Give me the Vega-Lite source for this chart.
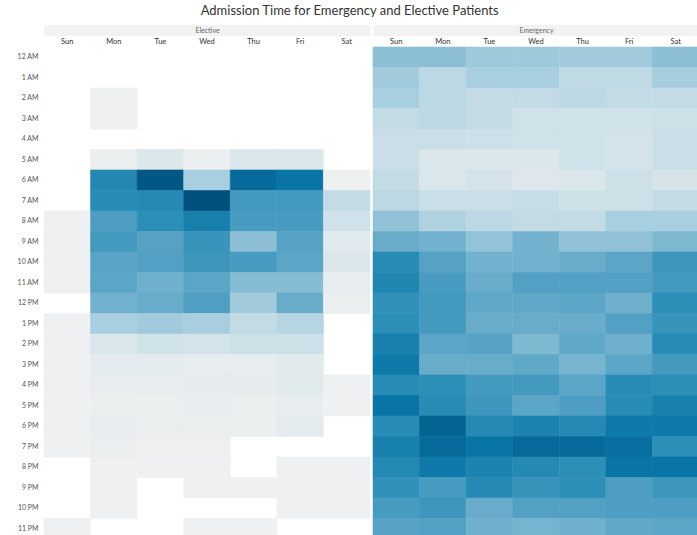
{
  "$schema": "https://vega.github.io/schema/vega-lite/v6.json",
  "padding": {"left": 0, "top": 5, "right": 0, "bottom": 0},
  "background": "white",
  "title": {"text": "Admission Time for Emergency and Elective Patients", "font": "Lato", "fontSize": 13, "fontWeight": "normal", "color": "#333333", "anchor": "middle", "offset": 8},
  "data": {"values": [
    {"t":"Elective","d":"Mon","h":"2 AM","v":2},
    {"t":"Elective","d":"Mon","h":"3 AM","v":2},
    {"t":"Elective","d":"Mon","h":"5 AM","v":3},{"t":"Elective","d":"Tue","h":"5 AM","v":14},{"t":"Elective","d":"Wed","h":"5 AM","v":3},{"t":"Elective","d":"Thu","h":"5 AM","v":14},{"t":"Elective","d":"Fri","h":"5 AM","v":14},
    {"t":"Elective","d":"Mon","h":"6 AM","v":75},{"t":"Elective","d":"Tue","h":"6 AM","v":97},{"t":"Elective","d":"Wed","h":"6 AM","v":30},{"t":"Elective","d":"Thu","h":"6 AM","v":90},{"t":"Elective","d":"Fri","h":"6 AM","v":86},{"t":"Elective","d":"Sat","h":"6 AM","v":2},
    {"t":"Elective","d":"Mon","h":"7 AM","v":72},{"t":"Elective","d":"Tue","h":"7 AM","v":74},{"t":"Elective","d":"Wed","h":"7 AM","v":100},{"t":"Elective","d":"Thu","h":"7 AM","v":62},{"t":"Elective","d":"Fri","h":"7 AM","v":62},{"t":"Elective","d":"Sat","h":"7 AM","v":22},
    {"t":"Elective","d":"Sun","h":"8 AM","v":1},{"t":"Elective","d":"Mon","h":"8 AM","v":58},{"t":"Elective","d":"Tue","h":"8 AM","v":70},{"t":"Elective","d":"Wed","h":"8 AM","v":80},{"t":"Elective","d":"Thu","h":"8 AM","v":60},{"t":"Elective","d":"Fri","h":"8 AM","v":60},{"t":"Elective","d":"Sat","h":"8 AM","v":18},
    {"t":"Elective","d":"Sun","h":"9 AM","v":1},{"t":"Elective","d":"Mon","h":"9 AM","v":62},{"t":"Elective","d":"Tue","h":"9 AM","v":55},{"t":"Elective","d":"Wed","h":"9 AM","v":66},{"t":"Elective","d":"Thu","h":"9 AM","v":38},{"t":"Elective","d":"Fri","h":"9 AM","v":55},{"t":"Elective","d":"Sat","h":"9 AM","v":10},
    {"t":"Elective","d":"Sun","h":"10 AM","v":1},{"t":"Elective","d":"Mon","h":"10 AM","v":53},{"t":"Elective","d":"Tue","h":"10 AM","v":56},{"t":"Elective","d":"Wed","h":"10 AM","v":64},{"t":"Elective","d":"Thu","h":"10 AM","v":60},{"t":"Elective","d":"Fri","h":"10 AM","v":52},{"t":"Elective","d":"Sat","h":"10 AM","v":14},
    {"t":"Elective","d":"Sun","h":"11 AM","v":1},{"t":"Elective","d":"Mon","h":"11 AM","v":52},{"t":"Elective","d":"Tue","h":"11 AM","v":46},{"t":"Elective","d":"Wed","h":"11 AM","v":52},{"t":"Elective","d":"Thu","h":"11 AM","v":40},{"t":"Elective","d":"Fri","h":"11 AM","v":40},{"t":"Elective","d":"Sat","h":"11 AM","v":6},
    {"t":"Elective","d":"Mon","h":"12 PM","v":45},{"t":"Elective","d":"Tue","h":"12 PM","v":48},{"t":"Elective","d":"Wed","h":"12 PM","v":57},{"t":"Elective","d":"Thu","h":"12 PM","v":32},{"t":"Elective","d":"Fri","h":"12 PM","v":48},{"t":"Elective","d":"Sat","h":"12 PM","v":4},
    {"t":"Elective","d":"Sun","h":"1 PM","v":1},{"t":"Elective","d":"Mon","h":"1 PM","v":30},{"t":"Elective","d":"Tue","h":"1 PM","v":32},{"t":"Elective","d":"Wed","h":"1 PM","v":30},{"t":"Elective","d":"Thu","h":"1 PM","v":22},{"t":"Elective","d":"Fri","h":"1 PM","v":26},
    {"t":"Elective","d":"Sun","h":"2 PM","v":1},{"t":"Elective","d":"Mon","h":"2 PM","v":15},{"t":"Elective","d":"Tue","h":"2 PM","v":18},{"t":"Elective","d":"Wed","h":"2 PM","v":17},{"t":"Elective","d":"Thu","h":"2 PM","v":19},{"t":"Elective","d":"Fri","h":"2 PM","v":19},
    {"t":"Elective","d":"Sun","h":"3 PM","v":1},{"t":"Elective","d":"Mon","h":"3 PM","v":8},{"t":"Elective","d":"Tue","h":"3 PM","v":8},{"t":"Elective","d":"Wed","h":"3 PM","v":6},{"t":"Elective","d":"Thu","h":"3 PM","v":6},{"t":"Elective","d":"Fri","h":"3 PM","v":10},
    {"t":"Elective","d":"Sun","h":"4 PM","v":1},{"t":"Elective","d":"Mon","h":"4 PM","v":5},{"t":"Elective","d":"Tue","h":"4 PM","v":5},{"t":"Elective","d":"Wed","h":"4 PM","v":7},{"t":"Elective","d":"Thu","h":"4 PM","v":7},{"t":"Elective","d":"Fri","h":"4 PM","v":10},{"t":"Elective","d":"Sat","h":"4 PM","v":1},
    {"t":"Elective","d":"Sun","h":"5 PM","v":1},{"t":"Elective","d":"Mon","h":"5 PM","v":3},{"t":"Elective","d":"Tue","h":"5 PM","v":4},{"t":"Elective","d":"Wed","h":"5 PM","v":5},{"t":"Elective","d":"Thu","h":"5 PM","v":4},{"t":"Elective","d":"Fri","h":"5 PM","v":6},{"t":"Elective","d":"Sat","h":"5 PM","v":1},
    {"t":"Elective","d":"Sun","h":"6 PM","v":1},{"t":"Elective","d":"Mon","h":"6 PM","v":5},{"t":"Elective","d":"Tue","h":"6 PM","v":4},{"t":"Elective","d":"Wed","h":"6 PM","v":4},{"t":"Elective","d":"Thu","h":"6 PM","v":3},{"t":"Elective","d":"Fri","h":"6 PM","v":8},
    {"t":"Elective","d":"Sun","h":"7 PM","v":1},{"t":"Elective","d":"Mon","h":"7 PM","v":4},{"t":"Elective","d":"Tue","h":"7 PM","v":2},{"t":"Elective","d":"Wed","h":"7 PM","v":2},
    {"t":"Elective","d":"Mon","h":"8 PM","v":1},{"t":"Elective","d":"Tue","h":"8 PM","v":1},{"t":"Elective","d":"Wed","h":"8 PM","v":1},{"t":"Elective","d":"Fri","h":"8 PM","v":1},{"t":"Elective","d":"Sat","h":"8 PM","v":1},
    {"t":"Elective","d":"Mon","h":"9 PM","v":1},{"t":"Elective","d":"Wed","h":"9 PM","v":1},{"t":"Elective","d":"Thu","h":"9 PM","v":1},{"t":"Elective","d":"Fri","h":"9 PM","v":1},{"t":"Elective","d":"Sat","h":"9 PM","v":1},
    {"t":"Elective","d":"Mon","h":"10 PM","v":1},{"t":"Elective","d":"Fri","h":"10 PM","v":1},{"t":"Elective","d":"Sat","h":"10 PM","v":1},
    {"t":"Elective","d":"Sun","h":"11 PM","v":1},{"t":"Elective","d":"Wed","h":"11 PM","v":1},{"t":"Elective","d":"Thu","h":"11 PM","v":1},

    {"t":"Emergency","d":"Sun","h":"12 AM","v":38},{"t":"Emergency","d":"Mon","h":"12 AM","v":38},{"t":"Emergency","d":"Tue","h":"12 AM","v":33},{"t":"Emergency","d":"Wed","h":"12 AM","v":33},{"t":"Emergency","d":"Thu","h":"12 AM","v":32},{"t":"Emergency","d":"Fri","h":"12 AM","v":32},{"t":"Emergency","d":"Sat","h":"12 AM","v":38},
    {"t":"Emergency","d":"Sun","h":"1 AM","v":32},{"t":"Emergency","d":"Mon","h":"1 AM","v":24},{"t":"Emergency","d":"Tue","h":"1 AM","v":30},{"t":"Emergency","d":"Wed","h":"1 AM","v":30},{"t":"Emergency","d":"Thu","h":"1 AM","v":23},{"t":"Emergency","d":"Fri","h":"1 AM","v":23},{"t":"Emergency","d":"Sat","h":"1 AM","v":31},
    {"t":"Emergency","d":"Sun","h":"2 AM","v":30},{"t":"Emergency","d":"Mon","h":"2 AM","v":24},{"t":"Emergency","d":"Tue","h":"2 AM","v":22},{"t":"Emergency","d":"Wed","h":"2 AM","v":22},{"t":"Emergency","d":"Thu","h":"2 AM","v":24},{"t":"Emergency","d":"Fri","h":"2 AM","v":22},{"t":"Emergency","d":"Sat","h":"2 AM","v":22},
    {"t":"Emergency","d":"Sun","h":"3 AM","v":22},{"t":"Emergency","d":"Mon","h":"3 AM","v":24},{"t":"Emergency","d":"Tue","h":"3 AM","v":22},{"t":"Emergency","d":"Wed","h":"3 AM","v":18},{"t":"Emergency","d":"Thu","h":"3 AM","v":18},{"t":"Emergency","d":"Fri","h":"3 AM","v":18},{"t":"Emergency","d":"Sat","h":"3 AM","v":19},
    {"t":"Emergency","d":"Sun","h":"4 AM","v":20},{"t":"Emergency","d":"Mon","h":"4 AM","v":20},{"t":"Emergency","d":"Tue","h":"4 AM","v":19},{"t":"Emergency","d":"Wed","h":"4 AM","v":18},{"t":"Emergency","d":"Thu","h":"4 AM","v":18},{"t":"Emergency","d":"Fri","h":"4 AM","v":17},{"t":"Emergency","d":"Sat","h":"4 AM","v":20},
    {"t":"Emergency","d":"Sun","h":"5 AM","v":20},{"t":"Emergency","d":"Mon","h":"5 AM","v":15},{"t":"Emergency","d":"Tue","h":"5 AM","v":14},{"t":"Emergency","d":"Wed","h":"5 AM","v":14},{"t":"Emergency","d":"Thu","h":"5 AM","v":18},{"t":"Emergency","d":"Fri","h":"5 AM","v":17},{"t":"Emergency","d":"Sat","h":"5 AM","v":20},
    {"t":"Emergency","d":"Sun","h":"6 AM","v":22},{"t":"Emergency","d":"Mon","h":"6 AM","v":15},{"t":"Emergency","d":"Tue","h":"6 AM","v":17},{"t":"Emergency","d":"Wed","h":"6 AM","v":12},{"t":"Emergency","d":"Thu","h":"6 AM","v":15},{"t":"Emergency","d":"Fri","h":"6 AM","v":19},{"t":"Emergency","d":"Sat","h":"6 AM","v":16},
    {"t":"Emergency","d":"Sun","h":"7 AM","v":24},{"t":"Emergency","d":"Mon","h":"7 AM","v":20},{"t":"Emergency","d":"Tue","h":"7 AM","v":20},{"t":"Emergency","d":"Wed","h":"7 AM","v":21},{"t":"Emergency","d":"Thu","h":"7 AM","v":19},{"t":"Emergency","d":"Fri","h":"7 AM","v":19},{"t":"Emergency","d":"Sat","h":"7 AM","v":22},
    {"t":"Emergency","d":"Sun","h":"8 AM","v":37},{"t":"Emergency","d":"Mon","h":"8 AM","v":28},{"t":"Emergency","d":"Tue","h":"8 AM","v":24},{"t":"Emergency","d":"Wed","h":"8 AM","v":22},{"t":"Emergency","d":"Thu","h":"8 AM","v":22},{"t":"Emergency","d":"Fri","h":"8 AM","v":30},{"t":"Emergency","d":"Sat","h":"8 AM","v":30},
    {"t":"Emergency","d":"Sun","h":"9 AM","v":48},{"t":"Emergency","d":"Mon","h":"9 AM","v":45},{"t":"Emergency","d":"Tue","h":"9 AM","v":36},{"t":"Emergency","d":"Wed","h":"9 AM","v":45},{"t":"Emergency","d":"Thu","h":"9 AM","v":37},{"t":"Emergency","d":"Fri","h":"9 AM","v":37},{"t":"Emergency","d":"Sat","h":"9 AM","v":42},
    {"t":"Emergency","d":"Sun","h":"10 AM","v":72},{"t":"Emergency","d":"Mon","h":"10 AM","v":55},{"t":"Emergency","d":"Tue","h":"10 AM","v":45},{"t":"Emergency","d":"Wed","h":"10 AM","v":45},{"t":"Emergency","d":"Thu","h":"10 AM","v":48},{"t":"Emergency","d":"Fri","h":"10 AM","v":52},{"t":"Emergency","d":"Sat","h":"10 AM","v":64},
    {"t":"Emergency","d":"Sun","h":"11 AM","v":76},{"t":"Emergency","d":"Mon","h":"11 AM","v":60},{"t":"Emergency","d":"Tue","h":"11 AM","v":48},{"t":"Emergency","d":"Wed","h":"11 AM","v":56},{"t":"Emergency","d":"Thu","h":"11 AM","v":56},{"t":"Emergency","d":"Fri","h":"11 AM","v":56},{"t":"Emergency","d":"Sat","h":"11 AM","v":62},
    {"t":"Emergency","d":"Sun","h":"12 PM","v":68},{"t":"Emergency","d":"Mon","h":"12 PM","v":62},{"t":"Emergency","d":"Tue","h":"12 PM","v":50},{"t":"Emergency","d":"Wed","h":"12 PM","v":50},{"t":"Emergency","d":"Thu","h":"12 PM","v":52},{"t":"Emergency","d":"Fri","h":"12 PM","v":46},{"t":"Emergency","d":"Sat","h":"12 PM","v":70},
    {"t":"Emergency","d":"Sun","h":"1 PM","v":70},{"t":"Emergency","d":"Mon","h":"1 PM","v":62},{"t":"Emergency","d":"Tue","h":"1 PM","v":48},{"t":"Emergency","d":"Wed","h":"1 PM","v":48},{"t":"Emergency","d":"Thu","h":"1 PM","v":48},{"t":"Emergency","d":"Fri","h":"1 PM","v":56},{"t":"Emergency","d":"Sat","h":"1 PM","v":66},
    {"t":"Emergency","d":"Sun","h":"2 PM","v":80},{"t":"Emergency","d":"Mon","h":"2 PM","v":52},{"t":"Emergency","d":"Tue","h":"2 PM","v":54},{"t":"Emergency","d":"Wed","h":"2 PM","v":42},{"t":"Emergency","d":"Thu","h":"2 PM","v":50},{"t":"Emergency","d":"Fri","h":"2 PM","v":46},{"t":"Emergency","d":"Sat","h":"2 PM","v":72},
    {"t":"Emergency","d":"Sun","h":"3 PM","v":84},{"t":"Emergency","d":"Mon","h":"3 PM","v":48},{"t":"Emergency","d":"Tue","h":"3 PM","v":48},{"t":"Emergency","d":"Wed","h":"3 PM","v":50},{"t":"Emergency","d":"Thu","h":"3 PM","v":44},{"t":"Emergency","d":"Fri","h":"3 PM","v":52},{"t":"Emergency","d":"Sat","h":"3 PM","v":62},
    {"t":"Emergency","d":"Sun","h":"4 PM","v":72},{"t":"Emergency","d":"Mon","h":"4 PM","v":70},{"t":"Emergency","d":"Tue","h":"4 PM","v":62},{"t":"Emergency","d":"Wed","h":"4 PM","v":62},{"t":"Emergency","d":"Thu","h":"4 PM","v":52},{"t":"Emergency","d":"Fri","h":"4 PM","v":72},{"t":"Emergency","d":"Sat","h":"4 PM","v":70},
    {"t":"Emergency","d":"Sun","h":"5 PM","v":86},{"t":"Emergency","d":"Mon","h":"5 PM","v":72},{"t":"Emergency","d":"Tue","h":"5 PM","v":64},{"t":"Emergency","d":"Wed","h":"5 PM","v":52},{"t":"Emergency","d":"Thu","h":"5 PM","v":58},{"t":"Emergency","d":"Fri","h":"5 PM","v":72},{"t":"Emergency","d":"Sat","h":"5 PM","v":80},
    {"t":"Emergency","d":"Sun","h":"6 PM","v":72},{"t":"Emergency","d":"Mon","h":"6 PM","v":92},{"t":"Emergency","d":"Tue","h":"6 PM","v":74},{"t":"Emergency","d":"Wed","h":"6 PM","v":78},{"t":"Emergency","d":"Thu","h":"6 PM","v":74},{"t":"Emergency","d":"Fri","h":"6 PM","v":84},{"t":"Emergency","d":"Sat","h":"6 PM","v":84},
    {"t":"Emergency","d":"Sun","h":"7 PM","v":80},{"t":"Emergency","d":"Mon","h":"7 PM","v":90},{"t":"Emergency","d":"Tue","h":"7 PM","v":86},{"t":"Emergency","d":"Wed","h":"7 PM","v":90},{"t":"Emergency","d":"Thu","h":"7 PM","v":90},{"t":"Emergency","d":"Fri","h":"7 PM","v":88},{"t":"Emergency","d":"Sat","h":"7 PM","v":70},
    {"t":"Emergency","d":"Sun","h":"8 PM","v":74},{"t":"Emergency","d":"Mon","h":"8 PM","v":84},{"t":"Emergency","d":"Tue","h":"8 PM","v":78},{"t":"Emergency","d":"Wed","h":"8 PM","v":74},{"t":"Emergency","d":"Thu","h":"8 PM","v":70},{"t":"Emergency","d":"Fri","h":"8 PM","v":86},{"t":"Emergency","d":"Sat","h":"8 PM","v":86},
    {"t":"Emergency","d":"Sun","h":"9 PM","v":68},{"t":"Emergency","d":"Mon","h":"9 PM","v":60},{"t":"Emergency","d":"Tue","h":"9 PM","v":74},{"t":"Emergency","d":"Wed","h":"9 PM","v":66},{"t":"Emergency","d":"Thu","h":"9 PM","v":70},{"t":"Emergency","d":"Fri","h":"9 PM","v":58},{"t":"Emergency","d":"Sat","h":"9 PM","v":64},
    {"t":"Emergency","d":"Sun","h":"10 PM","v":60},{"t":"Emergency","d":"Mon","h":"10 PM","v":64},{"t":"Emergency","d":"Tue","h":"10 PM","v":48},{"t":"Emergency","d":"Wed","h":"10 PM","v":56},{"t":"Emergency","d":"Thu","h":"10 PM","v":56},{"t":"Emergency","d":"Fri","h":"10 PM","v":58},{"t":"Emergency","d":"Sat","h":"10 PM","v":58},
    {"t":"Emergency","d":"Sun","h":"11 PM","v":54},{"t":"Emergency","d":"Mon","h":"11 PM","v":56},{"t":"Emergency","d":"Tue","h":"11 PM","v":46},{"t":"Emergency","d":"Wed","h":"11 PM","v":44},{"t":"Emergency","d":"Thu","h":"11 PM","v":46},{"t":"Emergency","d":"Fri","h":"11 PM","v":50},{"t":"Emergency","d":"Sat","h":"11 PM","v":52}
  ]},
  "spacing": 1,
  "hconcat": [
    {
      "transform": [{"filter": "datum.t === 'Elective'"}],
      "width": 326,
      "height": 492,
      "mark": {"type": "rect", "strokeWidth": 0.6},
      "encoding": {
        "x": {
          "field": "d", "type": "nominal",
          "scale": {"domain": ["Sun", "Mon", "Tue", "Wed", "Thu", "Fri", "Sat"], "paddingInner": 0, "paddingOuter": 0},
          "axis": {"orient": "top", "title": "Elective", "titleY": 0, "titleBaseline": "middle", "titleAnchor": "middle", "titleFont": "Lato", "titleFontSize": 7, "titleFontWeight": "normal", "titleColor": "#666666", "ticks": false, "domain": true, "domainColor": "#f2f2f2", "domainWidth": 11, "domainCap": "butt", "offset": 17, "labelAngle": 0, "labelFont": "Lato", "labelFontSize": 7.5, "labelColor": "#333333", "labelPadding": -15}
        },
        "y": {
          "field": "h", "type": "nominal",
          "scale": {"domain": ["12 AM", "1 AM", "2 AM", "3 AM", "4 AM", "5 AM", "6 AM", "7 AM", "8 AM", "9 AM", "10 AM", "11 AM", "12 PM", "1 PM", "2 PM", "3 PM", "4 PM", "5 PM", "6 PM", "7 PM", "8 PM", "9 PM", "10 PM", "11 PM"], "paddingInner": 0, "paddingOuter": 0},
          "axis": {"title": null, "ticks": false, "domain": false, "labelFont": "Lato", "labelFontSize": 7, "labelColor": "#555555", "labelPadding": 6, "minExtent": 44}
        },
        "color": {
          "field": "v", "type": "quantitative",
          "scale": {"domain": [0, 15, 30, 50, 70, 85, 100], "range": ["#f1f1f1", "#d9e6eb", "#a8cfdf", "#60a8c8", "#2b8fb8", "#0a78a8", "#00507f"]},
          "legend": null
        },
        "stroke": {
          "field": "v", "type": "quantitative",
          "scale": {"domain": [0, 15, 30, 50, 70, 85, 100], "range": ["#f1f1f1", "#d9e6eb", "#a8cfdf", "#60a8c8", "#2b8fb8", "#0a78a8", "#00507f"]},
          "legend": null
        }
      }
    },
    {
      "transform": [{"filter": "datum.t === 'Emergency'"}],
      "width": 326,
      "height": 492,
      "mark": {"type": "rect", "strokeWidth": 0.6},
      "encoding": {
        "x": {
          "field": "d", "type": "nominal",
          "scale": {"domain": ["Sun", "Mon", "Tue", "Wed", "Thu", "Fri", "Sat"], "paddingInner": 0, "paddingOuter": 0},
          "axis": {"orient": "top", "title": "Emergency", "titleY": 0, "titleBaseline": "middle", "titleAnchor": "middle", "titleFont": "Lato", "titleFontSize": 7, "titleFontWeight": "normal", "titleColor": "#666666", "ticks": false, "domain": true, "domainColor": "#f2f2f2", "domainWidth": 11, "domainCap": "butt", "offset": 17, "labelAngle": 0, "labelFont": "Lato", "labelFontSize": 7.5, "labelColor": "#333333", "labelPadding": -15}
        },
        "y": {
          "field": "h", "type": "nominal",
          "scale": {"domain": ["12 AM", "1 AM", "2 AM", "3 AM", "4 AM", "5 AM", "6 AM", "7 AM", "8 AM", "9 AM", "10 AM", "11 AM", "12 PM", "1 PM", "2 PM", "3 PM", "4 PM", "5 PM", "6 PM", "7 PM", "8 PM", "9 PM", "10 PM", "11 PM"], "paddingInner": 0, "paddingOuter": 0},
          "axis": null
        },
        "color": {
          "field": "v", "type": "quantitative",
          "scale": {"domain": [0, 15, 30, 50, 70, 85, 100], "range": ["#f1f1f1", "#d9e6eb", "#a8cfdf", "#60a8c8", "#2b8fb8", "#0a78a8", "#00507f"]},
          "legend": null
        },
        "stroke": {
          "field": "v", "type": "quantitative",
          "scale": {"domain": [0, 15, 30, 50, 70, 85, 100], "range": ["#f1f1f1", "#d9e6eb", "#a8cfdf", "#60a8c8", "#2b8fb8", "#0a78a8", "#00507f"]},
          "legend": null
        }
      }
    }
  ],
  "resolve": {"scale": {"x": "independent", "y": "independent"}},
  "config": {"view": {"stroke": null}, "axis": {"grid": false}}
}
